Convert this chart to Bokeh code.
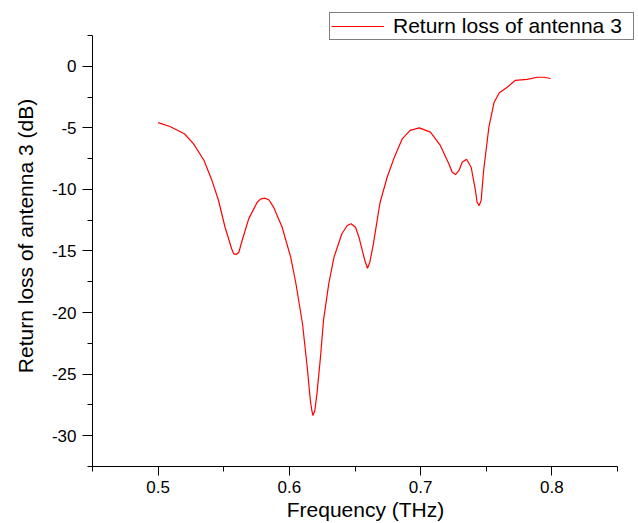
from bokeh.plotting import figure
from bokeh.models import Range1d, FixedTicker, Legend, LegendItem, PrintfTickFormatter
from bokeh.embed import file_html
from bokeh.resources import INLINE

freq = [0.500, 0.509, 0.520, 0.527, 0.535, 0.541, 0.546, 0.551, 0.556, 0.5576,
        0.5595, 0.5615, 0.564, 0.569, 0.5755, 0.578, 0.581, 0.5843, 0.588, 0.5945,
        0.601, 0.605, 0.610, 0.6136, 0.616, 0.6171, 0.618, 0.6194, 0.621, 0.6237,
        0.626, 0.630, 0.634, 0.640, 0.6441, 0.647, 0.6504, 0.653, 0.6575, 0.6595,
        0.6613, 0.664, 0.669, 0.6745, 0.680, 0.686, 0.692, 0.699, 0.7075, 0.715,
        0.7215, 0.7241, 0.7266, 0.7292, 0.7317, 0.735, 0.7385, 0.7418, 0.7430, 0.7446,
        0.7461, 0.748, 0.752, 0.756, 0.760, 0.766, 0.772, 0.781, 0.789, 0.794, 0.799]
loss = [-4.57, -4.89, -5.48, -6.30, -7.65, -9.27, -10.90, -13.07, -14.82, -15.23,
        -15.28, -15.10, -14.15, -12.39, -11.04, -10.79, -10.71, -10.84, -11.44, -13.07,
        -15.50, -17.66, -20.91, -24.44, -27.14, -27.95, -28.36, -27.95, -26.60, -23.62,
        -20.64, -17.66, -15.50, -13.60, -12.93, -12.79, -13.07, -13.88, -15.77, -16.40,
        -15.91, -14.42, -11.10, -9.01, -7.38, -5.89, -5.21, -5.00, -5.35, -6.43,
        -7.92, -8.60, -8.79, -8.46, -7.79, -7.55, -8.20, -10.09, -11.04, -11.31,
        -10.90, -8.46, -4.95, -2.92, -2.15, -1.70, -1.15, -1.07, -0.89, -0.89, -0.99]

x_major = [0.5, 0.6, 0.7, 0.8]
x_minor = [0.45, 0.55, 0.65, 0.75, 0.85]
y_major = [0, -5, -10, -15, -20, -25, -30]
y_minor = [2.5, -2.5, -7.5, -12.5, -17.5, -22.5, -27.5, -32.5]
x_axis_span = (0.45, 0.85)
y_axis_span = (-32.5, 2.5)

series_name = "Return loss of antenna 3"
x_title = "Frequency (THz)"
y_title = "Return loss of antenna 3 (dB)"

FONT = "Liberation Sans"

# the frame reaches a little past the axes so the legend box (which sits
# partly outside the axes in the original) is not clipped
p = figure(width=638, height=523, output_backend="svg", toolbar_location=None,
           x_range=Range1d(0.45, 0.866), y_range=Range1d(-32.5, 4.936),
           min_border_left=92, min_border_right=0, min_border_top=5,
           min_border_bottom=57)
p.outline_line_color = None
p.grid.visible = False
p.background_fill_color = "white"
p.border_fill_color = "white"

r = p.line(freq, loss, line_color="#ff0000", line_width=1.2)

xa = p.xaxis[0]
xa.ticker = FixedTicker(ticks=x_major, minor_ticks=x_minor)
xa.formatter = PrintfTickFormatter(format="%.1f")
xa.axis_label = x_title
xa.bounds = x_axis_span
ya = p.yaxis[0]
ya.ticker = FixedTicker(ticks=y_major, minor_ticks=y_minor)
ya.formatter = PrintfTickFormatter(format="%d")
ya.axis_label = y_title
ya.bounds = y_axis_span

for ax in (xa, ya):
    ax.axis_line_color = "black"
    ax.axis_line_width = 1
    ax.major_tick_line_color = "black"
    ax.minor_tick_line_color = "black"
    ax.major_tick_in = 0
    ax.minor_tick_in = 0
    ax.minor_tick_out = 5
    ax.major_label_text_font = FONT
    ax.major_label_text_font_size = "17px"
    ax.major_label_text_color = "black"
    ax.axis_label_text_font = FONT
    ax.axis_label_text_font_size = "21px"
    ax.axis_label_text_font_style = "normal"
    ax.axis_label_text_color = "black"

xa.major_tick_out = 9
xa.major_label_standoff = 5
xa.axis_label_standoff = 2
ya.major_tick_out = 10
ya.major_label_standoff = 6
ya.axis_label_standoff = 12

legend = Legend(items=[LegendItem(label=series_name, renderers=[r])],
                location=(237, 426), padding=1, margin=0, spacing=0,
                glyph_width=53, glyph_height=24, label_standoff=9,
                label_width=239, label_height=24,
                label_text_font=FONT, label_text_font_size="21px",
                label_text_color="black",
                border_line_color="black", border_line_width=1.2,
                background_fill_color="white", background_fill_alpha=1)
p.add_layout(legend, "center")

open("out.html", "w").write(file_html(p, INLINE))
